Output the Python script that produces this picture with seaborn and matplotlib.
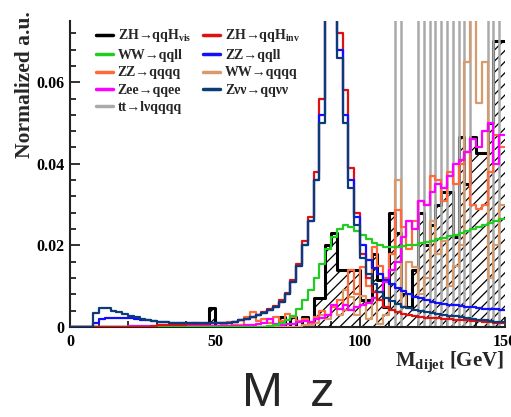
import numpy as np
import matplotlib
matplotlib.use("Agg")
import matplotlib.pyplot as plt
import seaborn as sns
from matplotlib.lines import Line2D
from matplotlib.ticker import FixedLocator, FixedFormatter, MultipleLocator

# ---------------- data (bin contents in units of 1e-3, 2 GeV bins) ----------------
edges = list(range(0, 152, 2))
centers = [e + 1 for e in edges[:-1]]
SCALE = 1e-3

zh_vis = [0]*24 + [4.6] + [0]*11 + [
    2.5, 0, 2.5, 0,
    2.5, 0, 7, 7, 20, 23, 14, 14, 14, 14,
    6.6, 6.6, 18, 11.5, 5, 28, 23, 8, 5, 14,
    28, 20, 25, 30, 33, 33, 22, 46.6, 35, 46.6,
    42.6, 42.6, 50, 70, 70]

zh_inv = [0]*14 + [0.3, 0.4, 0.5, 0.5, 0.6, 0.6,
    0.7, 0.7, 0.8, 0.8, 0.9, 1.0, 1.0, 1.1, 1.3, 1.6,
    2.0, 2.5, 3.0, 3.7, 4.4, 5.2, 6.5, 8.4, 11.5, 15.5,
    21, 27, 38, 56, 88, 105, 72, 58, 39, 28,
    18, 12, 8.5, 6.5, 5.0, 4.2, 3.6, 3.2, 2.9, 2.6,
    2.4, 2.3, 2.2, 2.1, 2.0, 1.9, 1.8, 1.7, 1.6, 1.5,
    1.4, 1.3, 1.2, 1.1, 1.0]

ww_qqll = [0]*34 + [0.3, 0.5, 1.0, 1.6, 2.8, 4.5,
    6.5, 9, 12, 15.5, 19, 22, 24, 25, 24.5, 23.5,
    22.5, 21.5, 20.5, 20, 19.5, 19.5, 19.5, 19.8, 20, 20.2,
    20.5, 20.8, 21.2, 21.5, 21.8, 22.2, 22.6, 23, 23.5, 24,
    24.5, 25, 25.5, 26, 26.5]

zz_qqll = [0, 0, 0, 0, 1.0, 2.0, 2.2, 2.3, 2.3, 2.3,
    2.2, 2.0, 1.8, 1.6, 1.4, 1.3, 1.2, 1.1, 1.0, 0.9,
    0.9, 0.9, 0.9, 0.9, 0.9, 1.0, 1.0, 1.1, 1.3, 1.6,
    2.0, 2.4, 2.9, 3.5, 4.2, 5.0, 6.2, 8.0, 11, 15,
    20, 26, 36, 52, 85, 100, 68, 52, 36, 27,
    20, 16.5, 14.5, 13, 11.5, 10.5, 9.5, 8.8, 8.0, 7.4,
    7.0, 6.6, 6.2, 5.9, 5.7, 5.5, 5.3, 5.1, 5.0, 4.8,
    4.7, 4.5, 4.4, 4.3, 4.2]

zz_qqqq = [0]*20 + [0.3, 1.0, 0.2, 0.5, 0.3, 0.3, 0.8, 1.2, 0.6, 0.5,
    2.5, 3.7, 1.5, 2.0, 1.0, 2.5, 1.5, 3.2, 2.5, 1.5,
    2.0, 1.0, 2.5, 4.0, 3.0, 5.0, 6.5, 4.2, 14, 8,
    14.7, 10, 19.6, 15, 12, 18, 28.7, 24.5, 19, 26,
    31, 30, 37, 36, 31, 38, 35, 40, 43, 30,
    29, 30, 38, 47, 44]

ww_qqqq = [0]*40 + [0.5, 0.5, 1.0, 3.0, 2.0, 5.0, 3.0, 9.0, 7.4, 3.0,
    7.5, 2.0, 7.0, 0.7, 3.0, 14, 36, 5, 16, 14.7,
    8, 12, 26, 18, 21, 10, 15, 20, 65, 85,
    55, 65, 12, 20, 30]

zee_qqee = [0]*10 + [0.3]*20 + [0.5, 0.6, 0.8, 1.0, 2.0, 0.8, 0.6, 0.8, 0.7, 1.2,
    1.5, 1.2, 2.0, 2.2, 3.0, 5.5, 4.5, 5.5, 4.2, 5.0,
    5.5, 6.0, 7.0, 8.5, 11, 14, 16, 22, 26, 24,
    31, 30, 33, 35, 34, 37, 40, 41, 43, 46,
    44, 48, 50, 40, 47]

zvv_qqvv = [0, 0, 0, 0, 3.4, 4.7, 4.6, 3.9, 3.7, 3.2,
    2.8, 2.4, 2.0, 1.7, 1.5, 1.3, 1.2, 1.1, 1.0, 0.9,
    0.9, 0.9, 0.9, 0.9, 0.9, 1.0, 1.0, 1.1, 1.3, 1.6,
    2.0, 2.4, 2.9, 3.5, 4.2, 5.0, 6.2, 8.0, 11, 15,
    20, 26, 36, 50, 85, 100, 66, 50, 34, 25,
    17, 13, 10.5, 8.5, 7.2, 6.3, 5.6, 5.0, 4.6, 4.2,
    3.9, 3.6, 3.4, 3.2, 3.0, 2.8, 2.6, 2.4, 2.2, 2.0,
    1.8, 1.6, 1.5, 1.3, 1.2]

tt_lvqqqq = [0]*56 + [500, 0, 0, 0, 500, 0, 500, 0, 500, 0,
    500, 0, 500, 0, 0, 0, 500, 0, 500]

labels = [r"ZH→qqH$_{\mathbf{vis}}$", r"ZH→qqH$_{\mathbf{inv}}$",
          "WW→qqll", "ZZ→qqll", "ZZ→qqqq", "WW→qqqq",
          "Zee→qqee", "Zνν→qqνν", "tt→lνqqqq"]
xticks = [0, 50, 100, 150]
xticklabels = ["0", "50", "100", "150"]
yticks = [0, 0.02, 0.04, 0.06]
yticklabels = ["0", "0.02", "0.04", "0.06"]

# ---------------- style ----------------
sns.set_style("ticks")
plt.rcParams["font.family"] = ["Liberation Serif", "DejaVu Serif"]
plt.rcParams["font.weight"] = "bold"
plt.rcParams["mathtext.fontset"] = "custom"
plt.rcParams["mathtext.rm"] = "Liberation Serif:bold"
plt.rcParams["mathtext.bf"] = "Liberation Serif:bold"
plt.rcParams["mathtext.it"] = "Liberation Serif:bold"
plt.rcParams["hatch.color"] = "black"
plt.rcParams["hatch.linewidth"] = 0.9

W, H = 511, 417
fig = plt.figure(figsize=(W / 100, H / 100), dpi=100)
ax = fig.add_axes([70 / W, 90 / H, 435 / W, 306 / H])

colors = {
    "zh_vis": "#000000", "zh_inv": "#e01010", "ww_qqll": "#22cc22",
    "zz_qqll": "#1010ff", "zz_qqqq": "#ff6a3a", "ww_qqqq": "#d89a6a",
    "zee_qqee": "#ff00ff", "zvv_qqvv": "#0b3c78", "tt_lvqqqq": "#aaaaaa",
}

def wts(vals):
    return [v * SCALE for v in vals]

def step(vals, color, lw, z):
    sns.histplot(x=centers, weights=wts(vals), bins=edges,
                 element="step", fill=False, color=color, linewidth=lw,
                 ax=ax, zorder=z)

# hatched signal
n_before = len(ax.collections)
sns.histplot(x=centers, weights=wts(zh_vis), bins=edges,
             element="step", fill=True, color="black", hatch="///",
             linewidth=0, alpha=1, ax=ax, zorder=1)
for coll in ax.collections[n_before:]:
    coll.set_facecolor("none")
    coll.set_edgecolor("black")
    coll.set_linewidth(0)
step(zh_vis, colors["zh_vis"], 2.2, 2)
step(tt_lvqqqq, colors["tt_lvqqqq"], 1.8, 2.5)
step(ww_qqqq, colors["ww_qqqq"], 1.6, 3)
step(zz_qqqq, colors["zz_qqqq"], 1.6, 3.2)
step(zee_qqee, colors["zee_qqee"], 1.6, 3.4)
step(ww_qqll, colors["ww_qqll"], 1.6, 3.6)
step(zh_inv, colors["zh_inv"], 1.6, 3.8)
step(zz_qqll, colors["zz_qqll"], 1.6, 4)
step(zvv_qqvv, colors["zvv_qqvv"], 1.6, 4.2)

ax.set_xlim(0, 150)
ax.set_ylim(0, 0.075)
ax.set_xlabel("")
ax.set_ylabel("")
for s in ["top", "right"]:
    ax.spines[s].set_visible(False)
for s in ["left", "bottom"]:
    ax.spines[s].set_linewidth(1.5)
    ax.spines[s].set_color("#222222")

ax.xaxis.set_major_locator(FixedLocator(xticks))
ax.xaxis.set_major_formatter(FixedFormatter(xticklabels))
ax.yaxis.set_major_locator(FixedLocator(yticks))
ax.yaxis.set_major_formatter(FixedFormatter(yticklabels))
ax.xaxis.set_minor_locator(MultipleLocator(10))
ax.yaxis.set_minor_locator(MultipleLocator(0.004))
ax.tick_params(which="both", direction="in", width=1.3, colors="#222222",
               labelsize=11.5, labelcolor="black")
ax.tick_params(which="major", length=7)
ax.tick_params(which="minor", length=4)
ax.tick_params(axis="x", pad=5)
ax.tick_params(axis="y", pad=4)

# legend: two columns, row-major order as in the reference
keys = ["zh_vis", "zh_inv", "ww_qqll", "zz_qqll", "zz_qqqq", "ww_qqqq",
        "zee_qqee", "zvv_qqvv", "tt_lvqqqq"]
handles = [Line2D([], [], color=colors[k], lw=2.5) for k in keys]
order = [0, 2, 4, 6, 8, 1, 3, 5, 7]
leg = ax.legend([handles[i] for i in order], [labels[i] for i in order],
                ncol=2, loc="upper left", bbox_to_anchor=(96 / W, (H - 27.5) / H),
                bbox_transform=fig.transFigure, frameon=False, fontsize=10,
                handlelength=1.2, handletextpad=0.35, columnspacing=0.9,
                labelspacing=0.32, borderpad=0, borderaxespad=0)
leg.set_zorder(10)

fig.text(25 / W, (H - 11) / H, "Normalized a.u.", rotation=90, ha="center",
         va="top", fontsize=15.5, fontweight="bold")
fig.text(504 / W, (H - 366) / H, r"M$_{\mathbf{dijet}}$ [GeV]", ha="right",
         va="baseline", fontsize=15, fontweight="bold")
fig.text(288 / W, 0.5 / H, "M  z", ha="center", va="bottom",
         fontsize=35.5, fontweight="normal", family=["Liberation Sans", "DejaVu Sans"])

fig.savefig("out.png", dpi=100)
